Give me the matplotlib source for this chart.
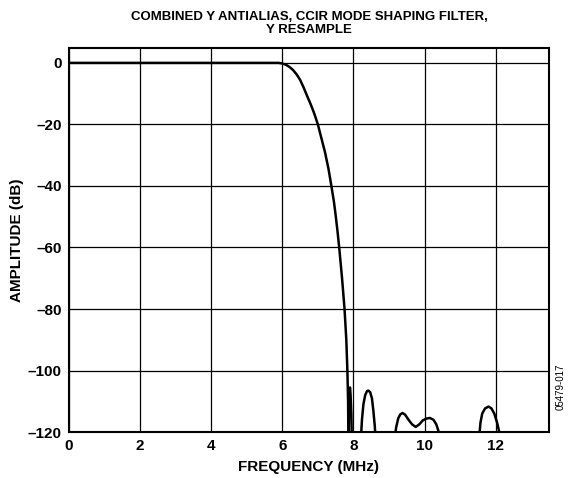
import numpy as np
import matplotlib.pyplot as plt

plt.rcParams['font.family'] = ['Liberation Sans', 'DejaVu Sans']
plt.rcParams['font.weight'] = 'bold'

# frequency response (MHz, dB)
freq = [0.0, 5.9, 6.0, 6.1, 6.2, 6.3, 6.4, 6.5, 6.6, 6.7, 6.8, 6.9, 7.0,
        7.1, 7.2, 7.3, 7.38, 7.45, 7.5, 7.55, 7.6, 7.68, 7.75, 7.8, 7.83,
        7.85, 7.86,
        7.875, 7.89, 7.905, 7.92, 7.94, 7.96,
        8.2, 8.24, 8.28, 8.33, 8.38, 8.42, 8.47, 8.52, 8.56, 8.6, 8.63,
        9.15, 9.2, 9.26, 9.32, 9.38, 9.45, 9.55, 9.65, 9.75, 9.85, 9.95,
        10.05, 10.15, 10.25, 10.33, 10.4, 10.45,
        11.52, 11.57, 11.62, 11.7, 11.8, 11.88, 11.96, 12.04, 12.1, 12.15]
amp = [0.0, 0.0, -0.2, -0.6, -1.3, -2.3, -3.7, -5.5, -8.0, -10.8, -13.5, -16.5, -20.0,
       -24.5, -29.0, -34.5, -40.0, -45.0, -49.5, -54.5, -60.0, -70.0, -80.0, -90.0, -100.0,
       -110.0, -125.0,
       -112.0, -106.0, -105.5, -108.0, -114.0, -125.0,
       -124.0, -116.0, -111.0, -108.0, -106.7, -106.5, -107.0, -109.0, -113.0, -118.0, -124.0,
       -123.0, -118.5, -115.5, -114.2, -113.8, -114.3, -116.0, -117.5, -118.3, -117.5, -116.2,
       -115.6, -115.4, -116.0, -117.5, -120.0, -124.0,
       -124.0, -117.0, -114.0, -112.3, -111.7, -112.3, -114.0, -117.0, -120.0, -124.0]

xticks = [0, 2, 4, 6, 8, 10, 12]
yticks = [0, -20, -40, -60, -80, -100, -120]
ytick_labels = ['0', '\u201320', '\u201340', '\u201360', '\u201380', '\u2013100', '\u2013120']

fig = plt.figure(figsize=(5.69, 4.78), dpi=100)
ax = fig.add_axes([0.121, 0.096, 0.844, 0.804])

ax.plot(freq, amp, color='black', lw=1.8, solid_joinstyle='round')

ax.set_xlim(0, 13.5)
ax.set_ylim(-120, 4.9)
ax.set_xticks(xticks)
ax.set_yticks(yticks)
ax.set_yticklabels(ytick_labels)
ax.grid(True, color='black', lw=0.9)
ax.tick_params(length=0, labelsize=11, pad=5)
for lab in ax.get_xticklabels() + ax.get_yticklabels():
    lab.set_fontweight('bold')
for s in ax.spines.values():
    s.set_linewidth(1.5)

ax.set_xlabel('FREQUENCY (MHz)', fontsize=11, fontweight='bold', labelpad=5)
ax.set_ylabel('AMPLITUDE (dB)', fontsize=11, fontweight='bold', labelpad=3)
ax.set_title('COMBINED Y ANTIALIAS, CCIR MODE SHAPING FILTER,\nY RESAMPLE',
             fontsize=9.5, fontweight='bold', linespacing=1.05, pad=11)

fig.text(0.994, 0.19, '05479-017', rotation=90, fontsize=7, fontweight='normal',
         ha='right', va='center')

fig.savefig('out.png', dpi=100)
